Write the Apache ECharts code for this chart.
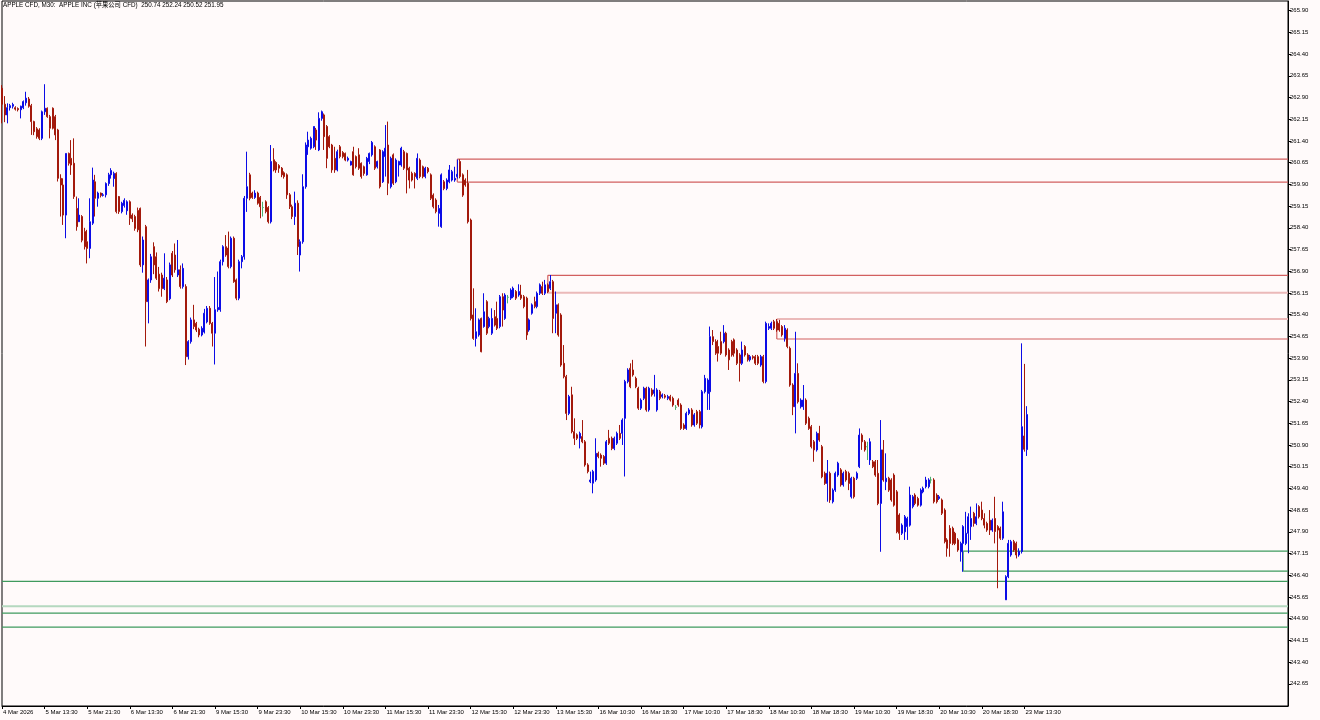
<!DOCTYPE html>
<html><head><meta charset="utf-8">
<script src="https://cdn.jsdelivr.net/npm/echarts@6/dist/echarts.min.js"></script>
<style>html,body{margin:0;padding:0;background:#fffafa;}#c{width:1320px;height:720px;}</style>
</head><body><div id="c"></div>
<script>
const titleText = 'APPLE CFD, M30:  APPLE INC (苹果公司 CFD)  250.74 252.24 250.52 251.95';
const tickLabels = ['4 Mar 2026','5 Mar 13:30','5 Mar 21:30','6 Mar 13:30','6 Mar 21:30','9 Mar 15:30','9 Mar 23:30','10 Mar 15:30','10 Mar 23:30','11 Mar 15:30','11 Mar 23:30','12 Mar 15:30','12 Mar 23:30','13 Mar 15:30','16 Mar 10:30','16 Mar 18:30','17 Mar 10:30','17 Mar 18:30','18 Mar 10:30','18 Mar 18:30','19 Mar 10:30','19 Mar 18:30','20 Mar 10:30','20 Mar 18:30','23 Mar 13:30'];
const yTicks = [242.65,243.40,244.15,244.90,245.65,246.40,247.15,247.90,248.65,249.40,250.15,250.90,251.65,252.40,253.15,253.90,254.65,255.40,256.15,256.90,257.65,258.40,259.15,259.90,260.65,261.40,262.15,262.90,263.65,264.40,265.15,265.90];
// [open, close, low, high]
const ohlc = [
[263.22,262.67,262.01,263.33],[262.67,262.30,262.05,262.95],[262.30,262.55,262.01,262.70],[262.55,262.62,262.45,262.68],[262.60,262.66,262.52,262.72],
[262.55,262.50,262.45,262.60],[262.52,262.48,262.42,262.56],[262.48,262.60,262.18,262.62],[262.55,262.76,262.50,262.80],[262.72,262.88,262.62,263.10],
[262.85,262.60,262.55,262.92],[262.62,262.07,261.61,262.68],[262.07,261.72,261.60,262.10],[261.82,261.55,261.48,261.88],[261.78,261.49,261.43,261.84],
[261.49,262.41,261.43,262.45],[262.41,262.53,262.30,263.36],[262.53,262.24,262.20,262.56],[262.24,261.84,261.49,262.30],[262.53,261.84,261.80,262.56],
[262.24,261.61,261.43,262.30],[261.78,260.11,260.00,261.82],[260.11,259.88,258.79,260.25],[259.88,258.84,258.50,260.11],[258.84,260.97,258.04,260.97],
[260.97,260.63,260.55,261.00],[260.80,260.57,260.23,261.43],[260.63,259.48,259.40,261.49],[259.07,258.44,258.30,259.48],[258.61,258.84,258.61,259.42],
[258.79,257.97,257.90,258.84],[258.27,257.75,257.65,258.40],[257.92,257.69,257.17,258.33],[257.69,258.61,257.35,259.42],[258.56,260.05,258.50,260.48],
[259.99,259.42,258.79,260.23],[259.42,259.60,259.13,259.65],[259.60,259.52,259.45,259.62],[259.52,259.54,259.48,259.60],[259.54,259.93,259.45,259.97],
[259.93,260.23,259.85,260.30],[260.23,260.38,260.10,260.46],[260.10,260.28,259.82,260.34],[260.28,258.96,258.90,260.32],[259.48,258.96,258.88,259.50],
[258.96,259.25,258.90,259.30],[259.17,259.35,259.10,259.42],[258.99,259.30,258.85,259.35],[259.30,258.73,258.50,259.35],[258.84,258.71,258.60,258.90],
[258.79,258.38,258.30,258.85],[259.00,258.33,258.25,259.10],[259.07,257.12,257.05,259.10],[257.12,257.98,256.85,258.10],[258.44,255.85,254.30,258.50],
[255.85,256.60,255.10,256.65],[256.60,257.40,256.50,257.50],[257.75,257.12,256.80,257.90],[257.40,256.66,256.60,257.55],[256.80,256.30,256.20,257.05],
[256.77,256.30,256.02,256.85],[256.30,256.66,256.25,257.52],[256.60,255.85,255.80,256.70],[255.95,257.12,255.90,257.20],[257.52,256.77,256.70,257.60],
[257.46,256.95,256.85,257.86],[256.77,256.95,256.70,257.98],[256.95,256.37,256.30,257.10],[256.37,257.00,256.30,257.17],[256.37,253.95,253.66,256.45],
[253.95,254.47,253.85,254.52],[254.47,255.22,254.40,255.30],[255.22,254.99,254.90,255.74],[255.10,254.87,254.80,255.15],[254.90,254.70,254.62,254.95],
[254.70,254.93,254.65,255.00],[254.80,255.45,254.75,255.60],[255.15,255.62,255.10,255.70],[255.62,255.10,255.05,255.70],[255.10,254.76,254.30,255.15],
[254.76,255.57,253.68,256.70],[255.57,255.65,255.50,256.89],[255.57,257.23,255.50,257.30],[257.23,257.75,257.10,257.80],[257.75,257.46,257.40,258.15],
[257.70,257.06,257.00,258.27],[257.06,258.04,257.00,258.10],[258.04,256.54,256.50,258.10],[256.60,255.97,255.90,256.65],[255.97,257.23,255.90,257.30],
[257.23,257.40,257.00,257.46],[257.40,259.42,257.30,259.50],[259.42,259.82,258.95,261.03],[260.23,259.42,259.35,260.30],[259.60,259.45,259.40,259.65],
[259.45,259.60,259.40,259.70],[259.60,259.25,259.20,259.65],[259.45,259.13,258.73,259.50],[259.10,259.10,258.79,259.30],[259.30,258.96,258.90,259.35],
[259.10,258.61,258.55,259.15],[258.61,260.69,258.55,261.26],[260.75,260.40,260.35,261.15],[260.66,260.40,260.30,260.70],[260.55,260.46,260.30,260.60],
[260.46,260.23,260.15,260.50],[260.30,260.17,260.10,260.35],[260.23,259.54,259.40,260.28],[259.54,259.13,259.05,259.60],[259.13,258.79,258.70,259.20],
[258.79,259.25,258.50,259.65],[259.25,257.75,257.46,259.35],[257.46,257.92,256.89,258.00],[257.92,259.82,257.85,260.25],[259.82,261.26,259.75,261.35],
[261.20,261.43,260.92,261.72],[261.15,261.49,261.10,261.55],[261.20,261.90,261.15,261.90],[261.78,261.43,261.09,261.85],[261.09,262.18,261.05,262.39],
[262.18,262.41,262.10,262.45],[262.30,261.55,261.09,262.35],[261.90,260.80,260.46,261.95],[261.55,261.20,261.15,261.60],[261.26,260.40,260.30,261.30],
[260.80,260.40,260.30,261.20],[260.40,261.03,260.35,261.10],[261.20,260.86,260.80,261.26],[261.00,260.86,260.80,261.05],[260.97,260.74,260.70,261.00],
[260.74,260.80,260.69,260.86],[260.57,260.69,260.55,260.72],[261.03,260.23,260.20,261.20],[260.86,260.51,260.45,260.90],[260.92,260.46,260.40,261.15],
[260.63,260.17,260.10,260.66],[260.51,260.28,260.20,260.55],[260.23,260.80,260.20,260.85],[260.69,260.97,260.60,261.00],[260.92,261.35,260.86,261.40],
[261.20,260.46,260.40,261.25],[260.51,260.69,260.45,260.72],[261.09,259.82,259.76,261.12],[259.99,261.03,259.95,261.08],[260.86,261.15,260.17,261.95],
[261.26,259.94,259.53,262.07],[259.82,260.80,259.76,260.86],[260.92,259.94,259.88,260.97],[259.99,260.74,259.94,260.80],[260.57,260.69,260.17,260.72],
[260.57,261.15,260.51,261.20],[261.03,260.46,260.40,261.09],[260.97,260.40,259.59,261.00],[260.46,260.05,259.76,260.51],[260.28,260.05,260.00,260.34],
[260.28,260.17,259.76,260.32],[260.11,260.80,260.05,260.97],[260.74,260.17,260.11,260.80],[260.51,260.17,260.11,260.55],[260.17,260.46,260.11,260.51],
[260.46,260.34,260.28,260.50],[260.23,259.42,259.36,260.28],[259.53,259.13,259.07,259.59],[259.36,258.96,258.90,259.42],[258.90,259.07,258.44,259.19],
[258.44,260.23,258.40,260.28],[259.99,259.76,259.70,260.05],[259.76,260.05,259.70,260.11],[259.99,260.40,259.94,260.57],[260.05,260.34,260.00,260.40],
[260.05,260.11,259.99,260.51],[260.17,260.25,260.10,260.76],[260.69,260.17,260.11,260.77],[260.23,259.53,259.47,260.28],[260.05,259.88,259.82,260.11],
[259.94,258.61,258.55,260.40],[258.67,255.27,255.20,258.72],[255.39,254.58,254.53,256.31],[254.58,254.81,254.30,255.62],[254.70,255.22,254.64,255.27],
[255.27,254.12,254.10,255.30],[254.99,255.50,254.95,256.14],[255.85,254.76,254.70,255.90],[254.99,255.27,254.93,255.33],[254.76,255.27,254.70,255.62],
[255.33,255.04,254.99,255.56],[255.27,254.93,254.87,255.85],[254.99,256.02,254.93,256.08],[256.02,255.56,254.99,256.14],[255.27,256.08,255.22,256.14],
[256.00,256.00,255.79,256.08],[255.97,256.25,255.91,256.31],[256.02,256.31,255.97,256.37],[256.20,255.97,255.91,256.25],[256.08,256.20,256.02,256.45],
[256.08,255.97,255.91,256.43],[256.02,255.68,255.62,256.08],[255.97,254.70,254.53,256.02],[254.87,255.22,254.81,255.27],[255.45,255.74,255.40,255.79],
[255.85,255.68,255.62,256.02],[255.68,256.14,255.62,256.20],[256.14,256.43,256.08,256.48],[256.37,256.14,256.08,256.54],[256.14,256.43,256.08,256.60],
[256.43,256.20,256.14,256.48],[256.31,256.54,256.25,256.77],[256.54,255.27,254.76,256.60],[255.45,255.74,254.76,256.20],[255.74,254.70,254.64,255.79],
[255.39,253.66,253.60,255.45],[253.72,253.26,253.20,254.35],[253.26,251.99,251.76,253.32],[251.99,252.57,251.93,252.63],[252.63,251.36,251.30,252.91],
[251.36,251.13,250.90,251.82],[251.25,251.13,251.07,251.30],[251.13,251.30,250.78,251.36],[251.19,251.01,250.96,251.76],[251.01,250.21,250.15,251.07],
[250.21,249.98,249.92,250.27],[249.63,249.69,249.58,249.98],[249.58,249.98,249.23,250.04],[249.69,250.61,249.63,251.13],[250.61,250.50,250.44,250.67],
[250.55,250.44,250.15,250.61],[250.50,250.27,250.21,250.55],[250.27,251.01,250.21,251.07],[251.13,250.96,250.90,251.42],[251.13,250.78,250.72,251.19],
[250.78,251.13,250.72,251.19],[250.96,251.30,250.90,251.36],[251.30,251.13,251.07,251.59],[251.30,251.76,250.90,251.82],[251.82,253.09,249.81,253.15],
[253.09,253.49,253.03,253.55],[253.55,252.91,252.86,253.72],[253.49,253.32,253.26,253.84],[253.20,252.91,252.86,253.26],[252.86,252.17,252.11,252.91],
[252.17,252.45,252.11,252.51],[252.51,252.86,252.45,252.91],[252.86,252.11,252.05,252.91],[252.11,252.86,252.05,252.91],[252.80,252.63,252.57,252.86],
[252.68,252.80,252.57,253.32],[252.11,252.80,252.05,252.86],[252.74,252.51,252.45,252.80],[252.57,252.63,252.51,252.68],[252.60,252.55,252.50,252.66],
[252.51,252.57,252.45,252.63],[252.57,252.45,252.40,252.63],[252.51,252.28,252.22,252.57],[252.20,252.20,252.11,252.28],[252.45,252.28,252.22,252.51],
[252.28,251.47,251.42,252.34],[251.59,251.47,251.42,251.65],[251.47,251.99,251.42,252.05],[251.99,252.11,251.93,252.17],[252.11,251.59,251.53,252.17],
[251.59,251.94,251.53,252.00],[252.05,251.65,251.59,252.11],[252.05,251.59,251.47,252.11],[251.53,252.74,251.47,252.80],[252.74,253.20,252.68,253.32],
[252.68,253.14,252.11,253.20],[252.74,254.64,252.11,254.99],[254.64,254.47,254.35,254.87],[254.47,254.07,254.01,254.55],[254.30,254.07,253.78,254.53],
[254.47,254.07,254.01,254.81],[254.47,254.76,254.41,255.04],[254.76,254.01,253.95,254.81],[254.18,253.84,253.49,254.24],[254.47,254.01,253.95,254.53],
[254.53,254.07,253.95,254.58],[254.18,253.72,253.66,254.24],[254.01,253.72,253.09,254.07],[253.72,254.18,253.66,254.47],[254.30,254.01,253.95,254.35],
[254.01,253.84,253.78,254.07],[253.84,253.95,253.78,254.01],[253.95,253.91,253.85,254.00],[253.95,253.72,253.66,254.01],[253.95,253.72,253.66,254.01],
[253.66,253.95,253.60,254.01],[253.95,253.09,253.03,254.01],[253.09,255.10,253.03,255.16],[254.93,254.99,254.87,255.10],[254.93,255.10,254.87,255.16],
[255.16,254.93,254.87,255.22],[255.16,254.87,254.81,255.25],[255.10,254.87,254.81,255.22],[254.99,254.70,254.64,255.04],[254.58,254.93,254.47,255.04],
[254.87,254.30,254.24,254.93],[254.24,252.97,252.91,254.30],[252.97,252.22,251.93,253.03],[252.22,253.37,251.30,254.81],[253.37,252.39,252.33,253.72],
[252.22,252.45,252.16,252.51],[252.22,252.45,252.11,252.97],[252.45,251.65,251.59,252.51],[251.82,251.47,251.42,251.88],[251.53,250.84,250.78,251.59],
[251.01,250.73,250.32,251.07],[250.73,251.30,250.67,251.36],[251.30,251.07,251.01,251.56],[250.84,249.80,249.75,250.90],[249.92,249.57,249.52,249.98],
[249.57,249.92,248.94,250.38],[249.92,249.00,248.90,249.98],[248.94,249.34,248.88,249.40],[249.34,249.92,249.28,249.98],[249.86,250.27,249.80,250.32],
[250.04,249.52,249.46,250.10],[249.52,249.92,249.46,249.98],[249.98,249.69,249.63,250.04],[249.92,249.57,249.34,249.98],[249.11,249.75,249.05,249.80],
[249.75,249.11,249.05,249.80],[249.75,249.92,249.69,249.98],[250.15,251.24,250.10,251.47],[251.24,251.01,250.73,251.30],[251.01,250.73,250.67,251.07],
[250.84,250.84,250.38,251.01],[250.38,251.01,250.21,251.13],[250.32,250.15,250.10,250.38],[250.32,249.86,249.80,250.38],[249.92,248.88,248.82,250.38],
[248.88,250.73,247.21,251.76],[250.73,249.69,249.63,251.07],[249.63,249.75,249.34,250.61],[249.75,249.34,249.28,249.80],[249.69,249.00,248.94,249.75],
[249.86,248.82,248.77,249.92],[249.28,247.90,247.85,249.34],[248.48,247.85,247.62,248.54],[247.85,248.13,247.79,248.19],[247.90,248.42,247.62,248.48],
[248.08,248.36,247.62,248.42],[248.13,249.17,248.08,249.46],[248.77,249.11,248.71,249.17],[249.17,248.88,248.82,249.23],[249.05,248.82,248.77,249.11],
[248.82,249.34,248.77,249.40],[249.28,249.40,249.23,249.46],[249.46,249.69,249.40,249.80],[249.46,249.69,249.40,249.75],[249.69,249.69,249.57,249.80],
[249.69,248.94,248.88,249.75],[249.17,248.94,248.88,249.23],[249.05,249.11,249.00,249.17],[249.00,248.54,248.48,249.05],[248.65,247.56,247.50,248.71],
[247.62,247.33,247.04,247.68],[248.02,247.50,247.04,248.13],[248.02,247.50,247.44,248.08],[247.85,247.50,247.44,247.90],[247.62,247.27,247.21,247.68],
[247.21,247.50,246.87,247.56],[247.50,248.08,246.52,248.13],[247.50,247.85,247.44,248.59],[247.85,248.42,247.16,248.54],[248.08,248.36,247.62,248.77],
[248.54,248.19,248.08,248.59],[248.19,248.42,248.13,248.88],[248.77,248.42,248.36,248.82],[248.65,248.36,248.30,248.94],[248.36,248.13,248.02,248.54],
[248.19,247.96,247.90,248.25],[248.30,247.96,247.79,248.65],[247.96,248.30,247.90,248.36],[248.36,247.91,247.50,249.11],[248.08,247.96,245.95,248.13],
[248.02,247.68,247.62,248.08],[247.68,248.59,247.62,248.94],[245.55,246.35,245.55,246.40],[246.35,247.50,246.30,247.62],[247.10,247.56,247.04,247.62],
[247.56,247.27,247.21,247.62],[247.50,247.10,246.98,247.56],[247.10,247.22,247.04,247.33],[247.22,251.53,247.15,254.41],[251.21,250.75,250.67,253.70],
[250.74,251.95,250.52,252.24]
];
const zoneStart = [171, 205, 291, 361];
const zoneTop = [260.77, 256.76, 255.25, 247.23];
const zoneBottom = [259.98, 256.16, 254.56, 246.54];
const levels = [246.19, 245.33, 245.09, 244.61];

const N_CAT = 484;
const LAST = N_CAT - 1;
const categories = [];
for (let i = 0; i < N_CAT; i++) categories.push(String(i));

const RED_LINE = '#d25f5f', RED_LIGHT = '#ebb9b9', GREEN_LINE = '#3f9a5e', GREEN_LIGHT = '#b5d8bf';
const zoneStyles = [
  {top: [RED_LINE, 1.2], bottom: [RED_LINE, 1.2], side: RED_LINE},
  {top: [RED_LINE, 1.2], bottom: [RED_LIGHT, 2], side: RED_LINE},
  {top: [RED_LIGHT, 2], bottom: [RED_LINE, 1.2], side: RED_LINE},
  {top: [GREEN_LINE, 1.2], bottom: [GREEN_LINE, 1.2], side: GREEN_LINE}
];
const levelStyles = [[GREEN_LINE, 1.2], [GREEN_LIGHT, 2], [GREEN_LINE, 1.2], [GREEN_LINE, 1.2]];

// line segments built from the zone/level arrays: [x0, p0, x1, p1]
const segs = [];
zoneStart.forEach((s, k) => {
  const st = zoneStyles[k];
  segs.push({value: [s, zoneTop[k], LAST, zoneTop[k]], st: st.top});
  segs.push({value: [s, zoneBottom[k], LAST, zoneBottom[k]], st: st.bottom});
  segs.push({value: [s, zoneTop[k], s, zoneBottom[k]], st: [st.side, 1.2]});
});
levels.forEach((p, k) => segs.push({value: [0, p, LAST, p], st: levelStyles[k]}));

const candleData = ohlc.map(d => {
  if (d[0] === d[1]) return {value: d, itemStyle: {color: '#4caf6e', color0: '#4caf6e', borderColor: '#4caf6e', borderColor0: '#4caf6e'}};
  return d;
});

const showTick = (i) => i % 16 === 0 && i <= 384;
const chart = echarts.init(document.getElementById('c'), null, {renderer: 'canvas'});
chart.setOption({
  backgroundColor: '#fffafa',
  animation: false,
  textStyle: {fontFamily: 'Liberation Sans, Noto Sans CJK SC, sans-serif'},
  grid: {left: 2, top: 1, width: 1286, height: 705, show: true, borderColor: '#000', borderWidth: 1, backgroundColor: 'transparent'},
  xAxis: {
    type: 'category', data: categories, boundaryGap: false,
    axisLine: {show: true, lineStyle: {color: '#000', width: 1}},
    axisTick: {show: true, interval: (i) => showTick(i), length: 3, lineStyle: {color: '#000'}},
    axisLabel: {show: true, interval: (i) => showTick(i), formatter: (v, i) => tickLabels[i / 16] || '', align: 'left', fontSize: 6, color: '#000', margin: 3, padding: [0, 0, 0, 1]},
    splitLine: {show: false}
  },
  yAxis: {
    type: 'value', position: 'right', min: 241.883, max: 266.235, scale: true,
    axisLine: {show: true, lineStyle: {color: '#000', width: 1}},
    axisTick: {show: true, length: 3, customValues: yTicks, lineStyle: {color: '#000'}},
    axisLabel: {show: true, customValues: yTicks, formatter: (v) => Number(v).toFixed(2), fontSize: 6, color: '#000', margin: 2},
    splitLine: {show: false}
  },
  graphic: [{type: 'text', left: 3, top: 2.5, style: {text: titleText, fontSize: 6.3, fill: '#000', fontFamily: 'Liberation Sans, Noto Sans CJK SC, sans-serif'}}],
  series: [{
    type: 'custom', data: segs, encode: {x: [0, 2], y: [1, 3]}, clip: false, silent: true, z: 1,
    renderItem: (params, api) => {
      const seg = segs[params.dataIndex];
      const a = api.coord([api.value(0), api.value(1)]);
      const b = api.coord([api.value(2), api.value(3)]);
      return {type: 'line', shape: {x1: a[0], y1: a[1], x2: b[0], y2: b[1]}, style: {stroke: seg.st[0], lineWidth: seg.st[1]}};
    }
  }, {
    type: 'candlestick', data: candleData, barWidth: 1.5, z: 2,
    itemStyle: {color: '#0c0ce6', color0: '#a3190c', borderColor: '#0c0ce6', borderColor0: '#a3190c', borderWidth: 1}
  }]
});
</script></body></html>
